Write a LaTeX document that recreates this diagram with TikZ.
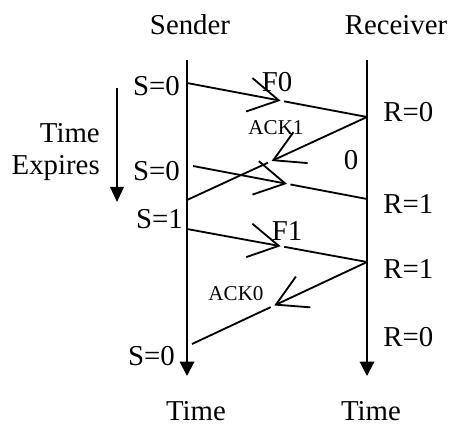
\documentclass[tikz,border=0pt]{standalone}
\usepackage{fontspec}
\setmainfont{Liberation Serif}
\usepackage{tikz}
\usetikzlibrary{arrows.meta, calc}

\tikzset{
    lbl/.style={inner sep=0pt, font=\fontsize{20.5}{24}\selectfont},
    smalllbl/.style={inner sep=0pt, font=\fontsize{15}{18}\selectfont},
    timeline/.style={line width=1.5pt, -{Triangle[length=0.36cm, width=0.36cm]}},
    msgline/.style={line width=1.3pt},
    msgarrow/.style={line width=1.3pt, -{Straight Barb[length=0.75cm, width=0.85cm]}}
}

\begin{document}
\begin{tikzpicture}
        \useasboundingbox (0, 0) rectangle (11.3, 10.65);

        % the two time lines
        \node[lbl] at (4.75, 10.025)   (sender) {Sender};
        \node[lbl] at (9.9, 10.025)    (receiver) {Receiver};
        \coordinate (sTop) at (4.675, 9.15);
        \coordinate (sBot) at (4.675, 1.25);
        \coordinate (rTop) at (9.175, 9.15);
        \coordinate (rBot) at (9.175, 1.25);
        \draw [timeline] (sTop) -- (sBot);
        \draw [timeline] (rTop) -- (rBot);
        \node[lbl] at (4.9, 0.375)     (timeS) {Time};
        \node[lbl] at (9.275, 0.375)   (timeR) {Time};

        % time expires
        \node[lbl, anchor=east] at (2.5, 7.325)  (expA) {Time};
        \node[lbl, anchor=east] at (2.5, 6.45)   (expB) {Expires};
        \coordinate (eTop) at (2.925, 8.45);
        \coordinate (eBot) at (2.925, 5.6);
        \draw [line width=1.5pt, -{Triangle[length=0.38cm, width=0.34cm]}] (eTop) -- (eBot);

        % points on the time lines
        \coordinate (s1) at (4.675, 8.575);
        \coordinate (r1) at (9.175, 7.725);
        \coordinate (s2) at (4.675, 5.65);
        \coordinate (s3) at (4.825, 6.5);
        \coordinate (r2) at (9.175, 5.675);
        \coordinate (s4) at (4.675, 4.925);
        \coordinate (r3) at (9.175, 4.1);
        \coordinate (s5) at (4.8, 2.05);

        % arrow tips half way
        \coordinate (m1) at ($(s1)!0.52!(r1)$);
        \coordinate (m2) at ($(r1)!0.53!(s2)$);
        \coordinate (m3) at ($(s3)!0.54!(r2)$);
        \coordinate (m4) at ($(s4)!0.52!(r3)$);
        \coordinate (m5) at ($(r3)!0.53!(s5)$);

        % frames and acks
        \draw [msgarrow] (s1) -- (m1);
        \draw [msgline] ($(s1)!0.54!(r1)$) -- (r1);
        \draw [msgarrow] (r1) -- (m2);
        \draw [msgline] ($(r1)!0.55!(s2)$) -- (s2);
        \draw [msgarrow] (s3) -- (m3);
        \draw [msgline] ($(s3)!0.56!(r2)$) -- (r2);
        \draw [msgarrow] (s4) -- (m4);
        \draw [msgline] ($(s4)!0.54!(r3)$) -- (r3);
        \draw [msgarrow] (r3) -- (m5);
        \draw [msgline] ($(r3)!0.55!(s5)$) -- (s5);

        % states
        \node[lbl, anchor=east] at (4.5, 8.5)     (sA) {S=0};
        \node[lbl, anchor=east] at (4.5, 6.375)   (sB) {S=0};
        \node[lbl, anchor=east] at (4.575, 5.175) (sC) {S=1};
        \node[lbl, anchor=east] at (4.375, 1.75)  (sD) {S=0};
        \node[lbl, anchor=west] at (9.575, 7.85)  (rA) {R=0};
        \node[lbl, anchor=west] at (9.575, 5.55)  (rB) {R=1};
        \node[lbl, anchor=west] at (9.575, 3.925) (rC) {R=1};
        \node[lbl, anchor=west] at (9.575, 2.225) (rD) {R=0};

        % frame labels
        \node[lbl] at (6.925, 8.6)       (f0) {F0};
        \node[smalllbl] at (6.9, 7.45)   (ack1) {ACK1};
        \node[lbl] at (8.775, 6.65)      (zero) {0};
        \node[lbl] at (7.175, 4.875)     (f1) {F1};
        \node[smalllbl] at (5.9, 3.3)    (ack0) {ACK0};
    \end{tikzpicture}
\end{document}
